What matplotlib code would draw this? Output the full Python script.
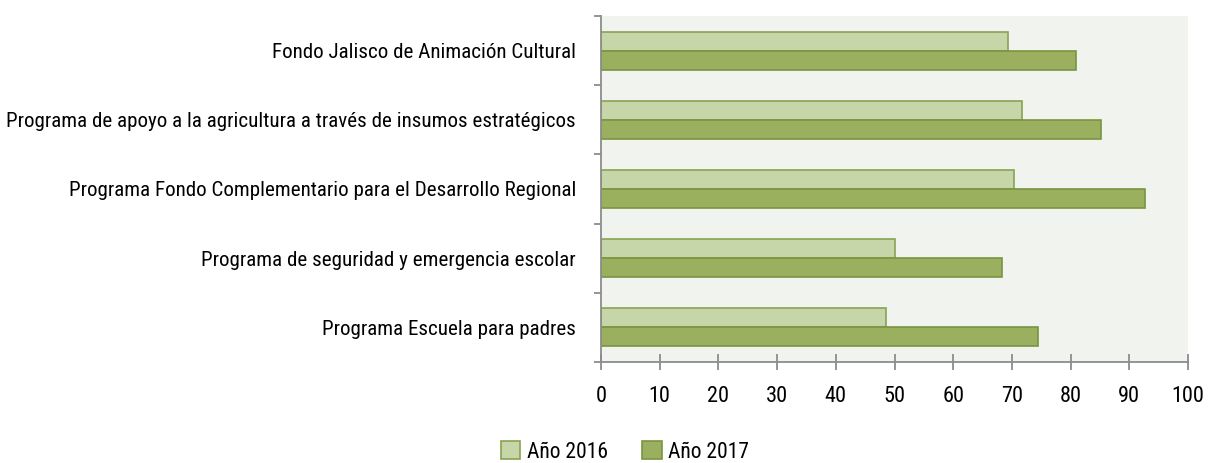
import numpy as np
import matplotlib.pyplot as plt
from matplotlib import font_manager

names = {f.name for f in font_manager.fontManager.ttflist}
fam = [n for n in ['Liberation Sans Narrow', 'Roboto Condensed', 'Open Sans Condensed'] if n in names] + ['DejaVu Sans']
plt.rcParams['font.family'] = fam

categorias = [
    'Fondo Jalisco de Animación Cultural',
    'Programa de apoyo a la agricultura a través de insumos estratégicos',
    'Programa Fondo Complementario para el Desarrollo Regional',
    'Programa de seguridad y emergencia escolar',
    'Programa Escuela para padres',
]
anio_2016 = [69.3, 71.7, 70.4, 50.0, 48.6]
anio_2017 = [81.0, 85.1, 92.6, 68.3, 74.5]
ticks_x = [0, 10, 20, 30, 40, 50, 60, 70, 80, 90, 100]

fig = plt.figure(figsize=(12.1, 4.63), dpi=100)
ax = fig.add_axes([601 / 1210, 1 - 362 / 463, 587 / 1210, 346 / 463])
ax.set_facecolor('#F1F4EE')

y = np.arange(len(categorias))
h = 0.275
ax.barh(y - h / 2, anio_2016, height=h, color='#C6D6A8', edgecolor='#8AA253',
        linewidth=1.2, label='Año 2016')
ax.barh(y + h / 2, anio_2017, height=h, color='#9BB05E', edgecolor='#7A9440',
        linewidth=1.2, label='Año 2017')

ax.set_ylim(len(categorias) - 0.5, -0.5)
ax.set_xlim(0, 100)
ax.set_xticks(ticks_x)
ax.set_yticks(y)
ax.set_yticklabels(categorias, fontsize=15.1)
ax.set_yticks(np.arange(len(categorias) + 1) - 0.5, minor=True)
ax.tick_params(axis='y', which='major', length=0, pad=18)
ax.tick_params(axis='y', which='minor', length=5, color='#8C8C8C', width=1.3)
ax.tick_params(axis='x', direction='inout', length=11, color='#8C8C8C', width=1.3,
               labelsize=16, pad=12)

for s in ['top', 'right']:
    ax.spines[s].set_visible(False)
for s in ['left', 'bottom']:
    ax.spines[s].set_color('#8C8C8C')
    ax.spines[s].set_linewidth(1.3)

fig.legend(loc='center', bbox_to_anchor=(625 / 1210, 1 - 452 / 463), ncol=2,
           frameon=False, fontsize=15.5, handlelength=0.9, handleheight=0.9,
           handletextpad=0.3, columnspacing=1.6)

fig.savefig('out.png', dpi=100)
